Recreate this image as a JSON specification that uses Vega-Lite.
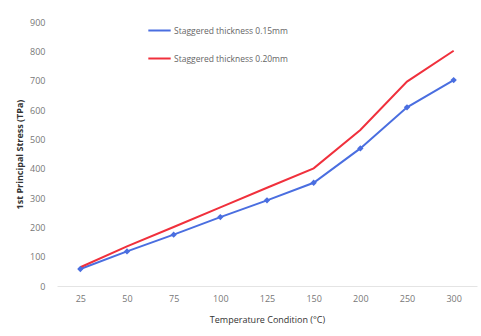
{
  "$schema": "https://vega.github.io/schema/vega-lite/v6.json",
  "width": 420,
  "height": 264,
  "autosize": "none",
  "padding": {"left": 57, "top": 22, "right": 4, "bottom": 50},
  "background": "white",
  "config": {"view": {"stroke": null}, "font": "Open Sans"},
  "data": {"values": [
    {"t": "25", "s": "Staggered thickness 0.15mm", "v": 58},
    {"t": "50", "s": "Staggered thickness 0.15mm", "v": 118},
    {"t": "75", "s": "Staggered thickness 0.15mm", "v": 175},
    {"t": "100", "s": "Staggered thickness 0.15mm", "v": 235},
    {"t": "125", "s": "Staggered thickness 0.15mm", "v": 292},
    {"t": "150", "s": "Staggered thickness 0.15mm", "v": 352},
    {"t": "200", "s": "Staggered thickness 0.15mm", "v": 469},
    {"t": "250", "s": "Staggered thickness 0.15mm", "v": 609},
    {"t": "300", "s": "Staggered thickness 0.15mm", "v": 702},
    {"t": "25", "s": "Staggered thickness 0.20mm", "v": 64},
    {"t": "50", "s": "Staggered thickness 0.20mm", "v": 135},
    {"t": "75", "s": "Staggered thickness 0.20mm", "v": 201},
    {"t": "100", "s": "Staggered thickness 0.20mm", "v": 268},
    {"t": "125", "s": "Staggered thickness 0.20mm", "v": 335},
    {"t": "150", "s": "Staggered thickness 0.20mm", "v": 401},
    {"t": "200", "s": "Staggered thickness 0.20mm", "v": 532},
    {"t": "250", "s": "Staggered thickness 0.20mm", "v": 697},
    {"t": "300", "s": "Staggered thickness 0.20mm", "v": 802}
  ]},
  "encoding": {
    "x": {
      "field": "t", "type": "ordinal", "sort": null,
      "axis": {"title": "Temperature Condition (°C)", "labelAngle": 0, "domainColor": "#e4e4e4", "ticks": false,
        "labelColor": "#777", "labelFontSize": 9, "labelPadding": 8, "titleFontSize": 9, "titleFontWeight": "normal", "titleColor": "#333", "titlePadding": 12}
    },
    "y": {
      "field": "v", "type": "quantitative",
      "scale": {"domain": [0, 900]},
      "axis": {"title": "1st Principal Stress (TPa)", "values": [0,100,200,300,400,500,600,700,800,900], "grid": false, "domain": false, "ticks": false,
        "labelColor": "#777", "labelFontSize": 9, "labelPadding": 12, "titleFontSize": 9, "titleFontWeight": "bold", "titleColor": "#333", "titlePadding": 5}
    },
    "color": {
      "field": "s", "type": "nominal",
      "scale": {"range": ["#4a6ee0", "#f0303c"]},
      "legend": {"title": null, "orient": "none", "legendX": 90, "legendY": -4, "symbolType": "stroke", "symbolStrokeWidth": 2, "symbolSize": 500, "rowPadding": 11, "labelFontSize": 8.5, "labelColor": "#666", "labelOffset": 2}
    }
  },
  "layer": [
    {"mark": {"type": "line", "strokeWidth": 2}},
    {"transform": [{"filter": "datum.s == 'Staggered thickness 0.15mm'"}], "mark": {"type": "point", "shape": "diamond", "filled": true, "size": 40, "opacity": 1}}
  ]
}
